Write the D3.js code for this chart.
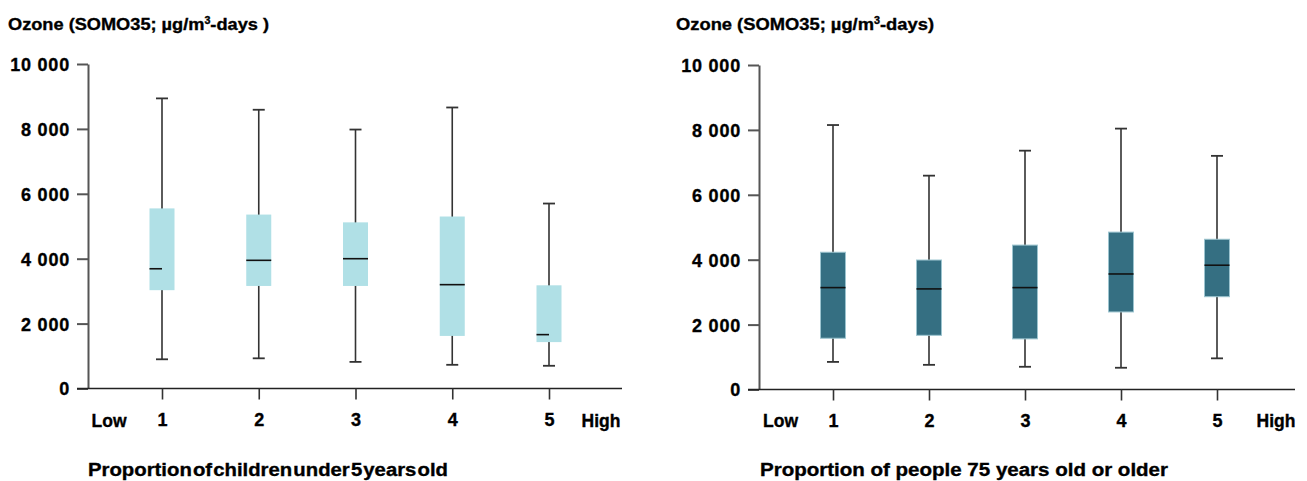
<!DOCTYPE html>
<html>
<head>
<meta charset="utf-8">
<script src="https://cdn.jsdelivr.net/npm/d3@7"></script>
<style>
  html, body { margin: 0; padding: 0; background: #fff; }
  svg text { font-family: "Liberation Sans", Arial, sans-serif; font-weight: bold; fill: #000; stroke: #000; stroke-width: 0.35px; }
</style>
</head>
<body>
<svg id="chart" width="1307" height="481"></svg>
<script>
// ---- data ----
const categories = ["1", "2", "3", "4", "5"];
const endLabels = ["Low", "High"];
const yTicks = [0, 2000, 4000, 6000, 8000, 10000];

const childrenMin    = [900, 930, 820, 730, 700];
const childrenQ1     = [3030, 3160, 3160, 1620, 1430];
const childrenMedian = [3690, 3950, 4000, 3200, 1660];
const childrenQ3     = [5550, 5360, 5120, 5300, 3180];
const childrenMax    = [8940, 8590, 7980, 8660, 5700];

const elderlyMin    = [850, 760, 700, 670, 960];
const elderlyQ1     = [1580, 1670, 1560, 2390, 2860];
const elderlyMedian = [3140, 3100, 3140, 3560, 3830];
const elderlyQ3     = [4230, 3990, 4450, 4850, 4630];
const elderlyMax    = [8150, 6590, 7360, 8040, 7200];

const titles = ["Ozone (SOMO35; µg/m", "3", "-days )", "Ozone (SOMO35; µg/m", "3", "-days)"];
const axisTitles = ["Proportion of children under 5 years old", "Proportion of people 75 years old or older"];

// ---- layout ----
const panels = [
  {
    min: childrenMin, q1: childrenQ1, med: childrenMedian, q3: childrenQ3, max: childrenMax,
    title: [titles[0], titles[1], titles[2]], titleX: 8, titleLen: 261,
    axisTitle: axisTitles[0], axisTitleX: 88, axisTitleLen: 360, axisWordSpacing: -4,
    xRange: [162, 549], yRange: [388.5, 64], axisX: 88, xAxisEnd: 622,
    lowX: 109, highX: 601,
    fill: "#b0e0e6", stroke: "none", halfMedian: [0, 4]
  },
  {
    min: elderlyMin, q1: elderlyQ1, med: elderlyMedian, q3: elderlyQ3, max: elderlyMax,
    title: [titles[3], titles[4], titles[5]], titleX: 676, titleLen: 258,
    axisTitle: axisTitles[1], axisTitleX: 760, axisTitleLen: 408, axisWordSpacing: 0,
    xRange: [833, 1217], yRange: [389.5, 65], axisX: 759, xAxisEnd: 1295,
    lowX: 780.5, highX: 1276,
    fill: "#356f82", stroke: "#9cc4cf", halfMedian: []
  }
];

const locale = d3.formatLocale({ decimal: ".", thousands: " ", grouping: [3], currency: ["", ""] });
const fmt = locale.format(",d");

const svg = d3.select("#chart");
const boxW = 25, capW = 12, tickLen = 11;

panels.forEach(p => {
  const g = svg.append("g");
  const x = d3.scalePoint().domain(categories).range(p.xRange);
  const y = d3.scaleLinear().domain([0, 10000]).range(p.yRange);

  // title
  const t = g.append("text")
    .attr("x", p.titleX).attr("y", 30)
    .attr("font-size", 17)
    .attr("textLength", p.titleLen).attr("lengthAdjust", "spacingAndGlyphs");
  t.append("tspan").text(p.title[0]);
  t.append("tspan").attr("font-size", 10).attr("dy", -6).text(p.title[1]);
  t.append("tspan").attr("dy", 6).text(p.title[2]);

  // y axis
  const yAxis = g.append("g")
    .attr("transform", `translate(${p.axisX},0)`)
    .call(d3.axisLeft(y).tickValues(yTicks).tickSize(tickLen).tickSizeOuter(0).tickPadding(7).tickFormat(fmt));
  yAxis.select(".domain").attr("stroke", "#555").attr("stroke-width", 2);
  yAxis.selectAll(".tick line").attr("stroke", "#555").attr("stroke-width", 2);
  yAxis.selectAll(".tick text")
    .attr("font-size", 18).attr("font-family", "Liberation Sans, Arial, sans-serif")
    .attr("font-weight", "bold").attr("fill", "#000").attr("letter-spacing", 0.8)
    .attr("dy", "0.36em");

  // x axis line
  g.append("line")
    .attr("x1", p.axisX - tickLen).attr("x2", p.xAxisEnd)
    .attr("y1", y(0)).attr("y2", y(0))
    .attr("stroke", "#222").attr("stroke-width", 1.6);

  const xAxis = g.append("g")
    .attr("transform", `translate(0,${y(0)})`)
    .call(d3.axisBottom(x).tickSize(tickLen).tickPadding(14));
  xAxis.select(".domain").remove();
  xAxis.selectAll(".tick line").attr("stroke", "#333").attr("stroke-width", 1.6);
  xAxis.selectAll(".tick text")
    .attr("font-size", 18).attr("font-family", "Liberation Sans, Arial, sans-serif")
    .attr("font-weight", "bold").attr("fill", "#000");

  // Low / High labels
  [p.lowX, p.highX].forEach((lx, i) => {
    g.append("text").attr("x", lx).attr("y", 427)
      .attr("text-anchor", "middle").attr("font-size", 17.5)
      .text(endLabels[i]);
  });

  // axis title
  g.append("text")
    .attr("x", p.axisTitleX).attr("y", 476)
    .attr("font-size", 18)
    .attr("word-spacing", p.axisWordSpacing)
    .attr("textLength", p.axisTitleLen).attr("lengthAdjust", "spacingAndGlyphs")
    .text(p.axisTitle);

  // boxes
  const data = categories.map((c, i) => ({
    c, i, min: p.min[i], q1: p.q1[i], med: p.med[i], q3: p.q3[i], max: p.max[i]
  }));
  const b = g.selectAll(".box").data(data).join("g").attr("class", "box");

  b.append("line")
    .attr("x1", d => x(d.c)).attr("x2", d => x(d.c))
    .attr("y1", d => y(d.min)).attr("y2", d => y(d.max))
    .attr("stroke", "#333").attr("stroke-width", 1.6);
  b.append("line")
    .attr("x1", d => x(d.c) - capW / 2).attr("x2", d => x(d.c) + capW / 2)
    .attr("y1", d => y(d.max)).attr("y2", d => y(d.max))
    .attr("stroke", "#333").attr("stroke-width", 1.8);
  b.append("line")
    .attr("x1", d => x(d.c) - capW / 2).attr("x2", d => x(d.c) + capW / 2)
    .attr("y1", d => y(d.min)).attr("y2", d => y(d.min))
    .attr("stroke", "#333").attr("stroke-width", 1.8);
  b.append("rect")
    .attr("x", d => x(d.c) - boxW / 2).attr("width", boxW)
    .attr("y", d => y(d.q3)).attr("height", d => y(d.q1) - y(d.q3))
    .attr("fill", p.fill).attr("stroke", p.stroke).attr("stroke-width", 1);
  b.append("line")
    .attr("x1", d => x(d.c) - boxW / 2)
    .attr("x2", d => p.halfMedian.includes(d.i) ? x(d.c) : x(d.c) + boxW / 2)
    .attr("y1", d => y(d.med)).attr("y2", d => y(d.med))
    .attr("stroke", "#111").attr("stroke-width", 1.6);
});
</script>
</body>
</html>
